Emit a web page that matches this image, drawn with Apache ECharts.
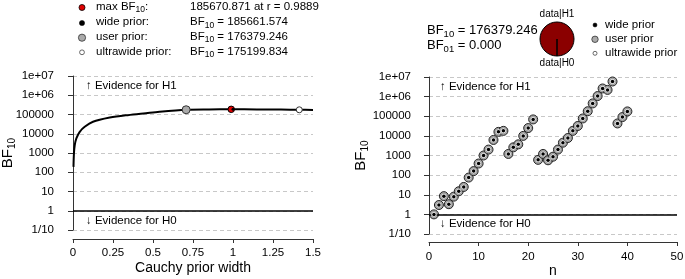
<!DOCTYPE html>
<html><head><meta charset="utf-8">
<script src="https://cdn.jsdelivr.net/npm/echarts@6/dist/echarts.min.js"></script>
<style>html,body{margin:0;padding:0;background:#fff}#c{width:685px;height:279px}</style>
</head><body><div id="c"></div>
<script>
// ---- data ----
const yTickLabels = ['1/10','1','10','100','1000','10000','100000','1e+06','1e+07'];
const curveR  = [0.003, 0.006, 0.011, 0.021, 0.042, 0.073, 0.125, 0.23, 0.33, 0.44, 0.54, 0.7071, 0.85, 0.9889, 1.15, 1.3, 1.4142, 1.5];
const curveBF = [190, 1000, 2600, 5750, 12600, 23000, 42000, 69000, 91000, 112000, 138000, 176379, 183500, 185670, 184200, 179500, 175200, 172800];
const markerNames = ['user prior', 'ultrawide prior', 'max BF10', 'wide prior'];
const markerR  = [0.7071, 1.4142, 0.9889, 1];
const markerBF = [176379.246, 175199.834, 185670.871, 185661.574];
const nValues = [1,2,3,4,5,6,7,8,9,10,11,12,13,14,15,16,17,18,19,20,21,22,23,24,25,26,27,28,29,30,31,32,33,34,35,36,37,38,39,40];
const bfSequential = [1, 3, 8.5, 3.3, 8, 15, 25, 75, 160, 390, 1000, 2000, 6200, 16000, 18000, 1200, 2600, 3700, 10000, 25000, 69000, 600, 1200, 570, 870, 2000, 4500, 7800, 18000, 32000, 77000, 180000, 450000, 1070000, 2600000, 2200000, 5900000, 43000, 91000, 176379];
const pieLabels = ['data|H1', 'data|H0'];
const pieValues = [176379.246, 1];
const leftLegendLabels = ['max BF10:', 'wide prior:', 'user prior:', 'ultrawide prior:'];
const leftLegendValues = ['185670.871 at r = 0.9889', 'BF10 = 185661.574', 'BF10 = 176379.246', 'BF10 = 175199.834'];
const rightLegendLabels = ['wide prior', 'user prior', 'ultrawide prior'];
const bfText = ['BF10 = 176379.246', 'BF01 = 0.000'];

// ---- chart ----
const FONT = 'Liberation Sans, Arial, sans-serif';
const chart = echarts.init(document.getElementById('c'), null, {renderer: 'canvas'});

function sub(str) {
  // turn "BF10"/"BF01" into rich text with subscript
  return str.replace(/BF(10|01)/g, (m, d) => '{n|BF}{s|' + d + '}').replace(/(^|\})([^{]+)(?=\{|$)/g, (m, a, b) => a + '{n|' + b + '}');
}
function richFor(fs, ss, pad) {
  return {
    n: {fontSize: fs, fontFamily: FONT, lineHeight: fs + 2, verticalAlign: 'top', fill: '#000', color: '#000'},
    s: {fontSize: ss, fontFamily: FONT, lineHeight: ss, padding: [pad, 0, 0, 0], verticalAlign: 'bottom', fill: '#000', color: '#000'}
  };
}

const yLabelFmt = v => yTickLabels[Math.round(Math.log10(v)) + 1];

const axisColor = '#333';
function xAxisCfg(grid, min, max, interval, offset, name, gap, margin) {
  return {
    type: 'value', gridIndex: grid, min, max, interval, offset,
    name, nameLocation: 'middle', nameGap: gap, nameMoveOverlap: false,
    nameTextStyle: {fontSize: 14, fontFamily: FONT, color: '#000'},
    axisLine: {show: true, lineStyle: {color: axisColor, width: 1}},
    axisTick: {show: true, length: 4, lineStyle: {color: axisColor}},
    axisLabel: {fontSize: 11.5, fontFamily: FONT, color: '#000', margin: margin},
    splitLine: {show: false}
  };
}
function yAxisCfg(grid, offset, gap, margin) {
  return {
    type: 'log', logBase: 10, gridIndex: grid, min: 0.1, max: 1e7, offset,
    name: '{b|BF}{s|10}', nameLocation: 'middle', nameGap: gap, nameRotate: 90, nameMoveOverlap: false,
    nameTextStyle: {rich: {
      b: {fontSize: 15, fontFamily: FONT, color: '#000', lineHeight: 17, verticalAlign: 'top'},
      s: {fontSize: 10, fontFamily: FONT, color: '#000', lineHeight: 10, padding: [9, 0, 0, 0], verticalAlign: 'bottom'}
    }},
    axisLine: {show: true, lineStyle: {color: axisColor, width: 1}},
    axisTick: {show: true, length: 5, lineStyle: {color: axisColor}},
    axisLabel: {fontSize: 11.5, fontFamily: FONT, color: '#000', margin: margin, formatter: yLabelFmt},
    splitLine: {show: true, lineStyle: {color: '#c8c8c8', type: [4, 3], width: 1}},
    minorTick: {show: false}
  };
}

const refLine = {
  silent: true, symbol: 'none', label: {show: false},
  lineStyle: {color: '#000', type: 'solid', width: 1.5},
  data: [{yAxis: 1}]
};

const curveData = curveR.map((r, i) => [r, curveBF[i]]);
const mk = i => [[markerR[i], markerBF[i]]];
const seqData = nValues.map((n, i) => [n, bfSequential[i]]);

const graphics = [];
// left legend
const lgY = [7.5, 23, 37.7, 52.3];
const lgSym = [
  {r: 3, fill: '#e00000', stroke: '#000', lw: 0.8},
  {r: 2.6, fill: '#000', stroke: '#000', lw: 0.5},
  {r: 3.6, fill: '#aaaaaa', stroke: '#333', lw: 0.8},
  {r: 2.4, fill: '#fff', stroke: '#444', lw: 0.8}
];
lgY.forEach((y, i) => {
  graphics.push({type: 'circle', shape: {cx: 82, cy: y, r: lgSym[i].r}, style: {fill: lgSym[i].fill, stroke: lgSym[i].stroke, lineWidth: lgSym[i].lw}});
  graphics.push({type: 'text', x: 96, y: y, style: {text: sub(leftLegendLabels[i]), rich: richFor(11.5, 8.5, 6), verticalAlign: 'middle', fill: '#000'}});
  graphics.push({type: 'text', x: 190, y: y, style: {text: sub(leftLegendValues[i]), rich: richFor(11.5, 8.5, 6), verticalAlign: 'middle', fill: '#000'}});
});
// right BF text
[31.7, 46.7].forEach((y, i) => {
  graphics.push({type: 'text', x: 427, y: y, style: {text: sub(bfText[i]), rich: richFor(13, 9.5, 7), verticalAlign: 'middle', fill: '#000'}});
});
// pie labels
graphics.push({type: 'text', x: 557, y: 14, style: {text: pieLabels[0], fontSize: 10, fontFamily: FONT, fill: '#000', align: 'center', verticalAlign: 'middle'}});
graphics.push({type: 'text', x: 557, y: 63, style: {text: pieLabels[1], fontSize: 10, fontFamily: FONT, fill: '#000', align: 'center', verticalAlign: 'middle'}});
// right legend
const rlY = [25, 39.3, 53.3];
const rlSym = [
  {r: 2, fill: '#000', stroke: '#000', lw: 0.5},
  {r: 3.2, fill: '#aaaaaa', stroke: '#333', lw: 0.8},
  {r: 2, fill: '#fff', stroke: '#444', lw: 0.8}
];
rlY.forEach((y, i) => {
  graphics.push({type: 'circle', shape: {cx: 595, cy: y, r: rlSym[i].r}, style: {fill: rlSym[i].fill, stroke: rlSym[i].stroke, lineWidth: rlSym[i].lw}});
  graphics.push({type: 'text', x: 605, y: y, style: {text: rightLegendLabels[i], fontSize: 11.5, fontFamily: FONT, fill: '#000', verticalAlign: 'middle'}});
});
// evidence labels
[[86, 86, '\u2191 Evidence for H1'], [86, 221, '\u2193 Evidence for H0'], [440, 87, '\u2191 Evidence for H1'], [440, 224, '\u2193 Evidence for H0']].forEach(t => {
  graphics.push({type: 'text', x: t[0], y: t[1], style: {text: t[2], fontSize: 11.5, fontFamily: FONT, fill: '#000', verticalAlign: 'middle'}});
});

chart.setOption({
  animation: false,
  textStyle: {fontFamily: FONT},
  grid: [
    {left: 73, top: 76, width: 240, height: 154, containLabel: false, outerBoundsMode: 'none'},
    {left: 429, top: 77, width: 248, height: 157, containLabel: false, outerBoundsMode: 'none'}
  ],
  xAxis: [
    xAxisCfg(0, 0, 1.5, 0.25, 9, 'Cauchy prior width', 22, 8),
    xAxisCfg(1, 0, 50, 10, 8, 'n', 22, 9)
  ],
  yAxis: [
    yAxisCfg(0, 10, 46, 9),
    yAxisCfg(1, 11, 48, 7)
  ],
  series: [
    {type: 'line', xAxisIndex: 0, yAxisIndex: 0, data: curveData, smooth: 0.3, showSymbol: false, silent: true,
     lineStyle: {color: '#000', width: 2}, markLine: refLine, z: 3},
    {type: 'scatter', xAxisIndex: 0, yAxisIndex: 0, name: markerNames[0], data: mk(0), symbolSize: 8,
     itemStyle: {color: '#aaaaaa', borderColor: '#333', borderWidth: 1, opacity: 1}, z: 4},
    {type: 'scatter', xAxisIndex: 0, yAxisIndex: 0, name: markerNames[1], data: mk(1), symbolSize: 6,
     itemStyle: {color: '#fff', borderColor: '#333', borderWidth: 1, opacity: 1}, z: 4},
    {type: 'scatter', xAxisIndex: 0, yAxisIndex: 0, name: markerNames[2], data: mk(2), symbolSize: 6.5,
     itemStyle: {color: '#e00000', borderColor: '#000', borderWidth: 1, opacity: 1}, z: 5},
    {type: 'scatter', xAxisIndex: 0, yAxisIndex: 0, name: markerNames[3], data: mk(3), symbolSize: 3,
     itemStyle: {color: '#000', opacity: 1}, z: 6},
    // sequential
    {type: 'line', xAxisIndex: 1, yAxisIndex: 1, data: [], markLine: refLine},
    {type: 'scatter', xAxisIndex: 1, yAxisIndex: 1, name: 'user prior', data: seqData, symbolSize: 9,
     itemStyle: {color: '#a8a8a8', borderColor: '#222', borderWidth: 1, opacity: 1}, z: 4},
    {type: 'scatter', xAxisIndex: 1, yAxisIndex: 1, name: 'ultrawide prior', data: seqData, symbolSize: 5.5,
     itemStyle: {color: '#fff', borderColor: '#777', borderWidth: 0.5, opacity: 1}, z: 5},
    {type: 'scatter', xAxisIndex: 1, yAxisIndex: 1, name: 'wide prior', data: seqData, symbolSize: 3.5,
     itemStyle: {color: '#000', opacity: 1}, z: 6},
    // pie
    {type: 'pie', center: [557, 39], radius: 17, startAngle: -90, clockwise: true, silent: true,
     label: {show: false}, labelLine: {show: false}, minAngle: 0,
     data: pieLabels.map((l, i) => ({name: l, value: pieValues[i]})),
     itemStyle: {color: '#8b0000', borderColor: '#000', borderWidth: 1}}
  ],
  graphic: graphics
});
</script>
</body></html>
